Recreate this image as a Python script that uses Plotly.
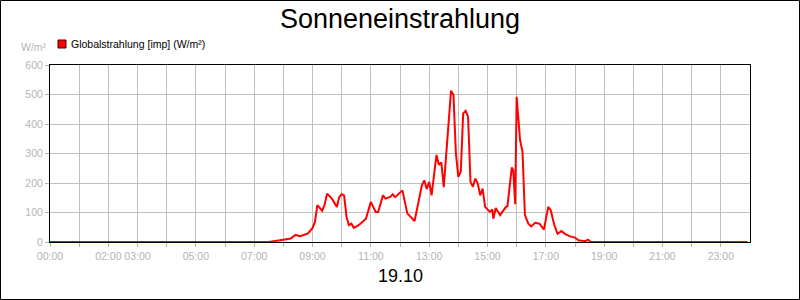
import plotly.graph_objects as go

# ---- data ----
TIMES = ["00:00", "07:30", "08:00", "08:15", "08:25", "08:35", "08:40", "08:50",
         "09:00", "09:05", "09:10", "09:20", "09:25", "09:30", "09:40", "09:50",
         "09:55", "10:00", "10:05", "10:10", "10:15", "10:20", "10:25", "10:35",
         "10:50", "11:00", "11:10", "11:15", "11:25", "11:30", "11:40", "11:45",
         "11:50", "12:05", "12:15", "12:30", "12:45", "12:50", "12:55", "13:00",
         "13:05", "13:15", "13:20", "13:25", "13:30", "13:40", "13:45", "13:50",
         "13:55", "14:00", "14:05", "14:10", "14:15", "14:20", "14:25", "14:30",
         "14:35", "14:40", "14:45", "14:50", "14:55", "15:05", "15:10", "15:12",
         "15:17", "15:26", "15:38", "15:41", "15:50", "15:53", "15:57", "16:00",
         "16:07", "16:12", "16:17", "16:24", "16:30", "16:38", "16:47", "16:56",
         "17:05", "17:10", "17:17", "17:24", "17:32", "17:40", "17:50", "18:00",
         "18:07", "18:21", "18:27", "18:31", "18:35", "23:55"]
GLOBALSTRAHLUNG = [0, 0, 8, 12, 24, 20, 23, 28,
                   47, 68, 125, 106, 127, 164, 147, 119,
                   152, 162, 158, 85, 57, 62, 48, 57,
                   79, 136, 102, 102, 158, 147, 153, 162,
                   152, 175, 97, 71, 192, 209, 180, 204,
                   158, 295, 262, 270, 186, 413, 513, 498,
                   300, 221, 238, 436, 445, 425, 204, 187,
                   215, 198, 158, 181, 119, 102, 110, 79,
                   115, 91, 119, 121, 253, 243, 128, 492,
                   345, 306, 91, 62, 53, 65, 62, 42,
                   119, 108, 60, 28, 37, 27, 19, 15,
                   6, 3, 8, 1, 0, 0]
TICK_HOURS = list(range(24))
TICK_LABELS = ["00:00", "", "02:00", "03:00", "", "05:00", "", "07:00", "", "09:00",
               "", "11:00", "", "13:00", "", "15:00", "", "17:00", "", "19:00",
               "", "21:00", "", "23:00"]
Y_TICKS = [0, 100, 200, 300, 400, 500, 600]
TITLE = "Sonneneinstrahlung"
SERIES_NAME = "Globalstrahlung [imp] (W/m²)"
UNIT = "W/m²"
DATE_LABEL = "19.10"


def to_hours(t):
    h, m = t.split(":")
    return int(h) + int(m) / 60.0


x_hours = [to_hours(t) for t in TIMES]

FONT = "Liberation Sans, Arial, sans-serif"
GREY = "#b4b4b4"
W, H = 800, 300
ML, MR, MT, MB = 50, 50, 65, 58
PW, PH = W - ML - MR, H - MT - MB

fig = go.Figure()
fig.add_trace(go.Scatter(
    x=x_hours, y=GLOBALSTRAHLUNG, mode="lines", name=SERIES_NAME,
    line=dict(color="#ff0000", width=2), showlegend=False,
    hovertemplate="%{y}<extra></extra>",
))

fig.update_layout(
    width=W, height=H,
    margin=dict(l=ML, r=MR, t=MT, b=MB, pad=0),
    paper_bgcolor="white", plot_bgcolor="white",
    font=dict(family=FONT, size=11, color=GREY),
    title=dict(text=TITLE, x=0.5, xanchor="center", y=1 - 19 / H, yanchor="middle",
               font=dict(family=FONT, size=27, color="black")),
    xaxis=dict(range=[0, 24], tickvals=TICK_HOURS, ticktext=TICK_LABELS,
               tickangle=0,
               showgrid=True, gridcolor="#c0c0c0", gridwidth=1,
               showline=True, linecolor="black", linewidth=1, mirror=True,
               ticks="outside", ticklen=4, tickcolor=GREY,
               tickfont=dict(family=FONT, size=10.5, color=GREY),
               zeroline=False, fixedrange=True),
    yaxis=dict(range=[0, 600], tickvals=Y_TICKS,
               showgrid=True, gridcolor="#c0c0c0", gridwidth=1,
               showline=True, linecolor="black", linewidth=1, mirror=True,
               ticks="outside", ticklen=4, tickcolor=GREY,
               tickfont=dict(family=FONT, size=10.5, color=GREY),
               zeroline=False, fixedrange=True),
    showlegend=False,
)

# legend (text + swatch)
fig.add_annotation(xref="paper", yref="paper", x=(69 - ML) / PW, y=1 + (MT - 44) / PH,
                   xanchor="left", yanchor="middle", showarrow=False,
                   text=SERIES_NAME, font=dict(family=FONT, size=10.5, color="black"))
fig.add_shape(type="rect", xref="paper", yref="paper",
              x0=(58 - ML) / PW, x1=(66 - ML) / PW,
              y0=1 + (MT - 48) / PH, y1=1 + (MT - 40) / PH,
              fillcolor="#ff0000", line=dict(color="#400000", width=1))
# unit label
fig.add_annotation(xref="paper", yref="paper", x=(49 - ML) / PW, y=1 + (MT - 47) / PH,
                   xanchor="right", yanchor="middle", showarrow=False,
                   text=UNIT, font=dict(family=FONT, size=10.5, color=GREY))
# date label
fig.add_annotation(xref="paper", yref="paper", x=0.5, y=-(276 - (MT + PH)) / PH,
                   xanchor="center", yanchor="middle", showarrow=False,
                   text=DATE_LABEL, font=dict(family=FONT, size=18, color="black"))
# outer border
fig.add_shape(type="rect", xref="paper", yref="paper",
              x0=(0.5 - ML) / PW, x1=(W - 0.5 - ML) / PW,
              y0=-(MB - 0.5) / PH, y1=1 + (MT - 0.5) / PH,
              line=dict(color="black", width=1), fillcolor="rgba(0,0,0,0)")

fig.write_html("out.html")
